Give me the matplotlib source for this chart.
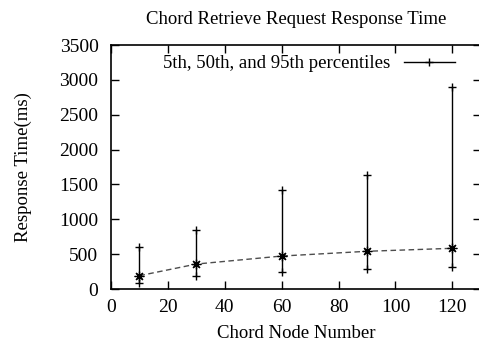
import numpy as np
import matplotlib.pyplot as plt
import matplotlib.lines as mlines

plt.rcParams['font.family'] = ['Liberation Serif', 'DejaVu Serif']

nodes = [10, 30, 60, 90, 120]
p5 = [90, 191, 248, 282, 320]
p50 = [191, 358, 473, 541, 584]
p95 = [607, 842, 1420, 1635, 2900]

fig = plt.figure(figsize=(4.79, 3.47), dpi=100)
ax = fig.add_axes([0.2317, 0.1671, 0.772, 0.7032])

ax.vlines(nodes, p5, p95, color='black', lw=1.0)
ax.plot(nodes, p5, linestyle='none', marker='+', color='black', markersize=6, mew=1.0)
ax.plot(nodes, p95, linestyle='none', marker='+', color='black', markersize=6, mew=1.0)
ax.plot(nodes, p50, color='0.3', lw=1.0, dashes=(4, 2.5))
ax.plot(nodes, p50, linestyle='none', marker=(8, 2, 0), color='black', markersize=7, mew=0.9)

ax.set_xlim(0, 130)
ax.set_ylim(0, 3500)
ax.set_xticks(np.arange(0, 121, 20))
ax.set_yticks(np.arange(0, 3501, 500))
ax.tick_params(axis='both', direction='in', top=True, right=True, length=5.5, width=1, labelsize=14)
ax.tick_params(axis='y', pad=9)
ax.tick_params(axis='x', pad=7)
for spine in ax.spines.values():
    spine.set_linewidth(1.2)

ax.set_title('Chord Retrieve Request Response Time', fontsize=13.5, pad=15)
ax.set_xlabel('Chord Node Number', fontsize=13.5, labelpad=7)
ax.set_ylabel('Response Time(ms)', fontsize=13.5, labelpad=20)

ax.legend(handles=[mlines.Line2D([], [], color='black', lw=1.0, marker='+', markersize=6)],
          labels=['5th, 50th, and 95th percentiles'], loc='upper right',
          bbox_to_anchor=(0.965, 1.012), frameon=False, fontsize=13.5, markerfirst=False,
          handlelength=2.7, numpoints=1, borderpad=0.2, handletextpad=0.75)

plt.savefig('out.png', dpi=100)
